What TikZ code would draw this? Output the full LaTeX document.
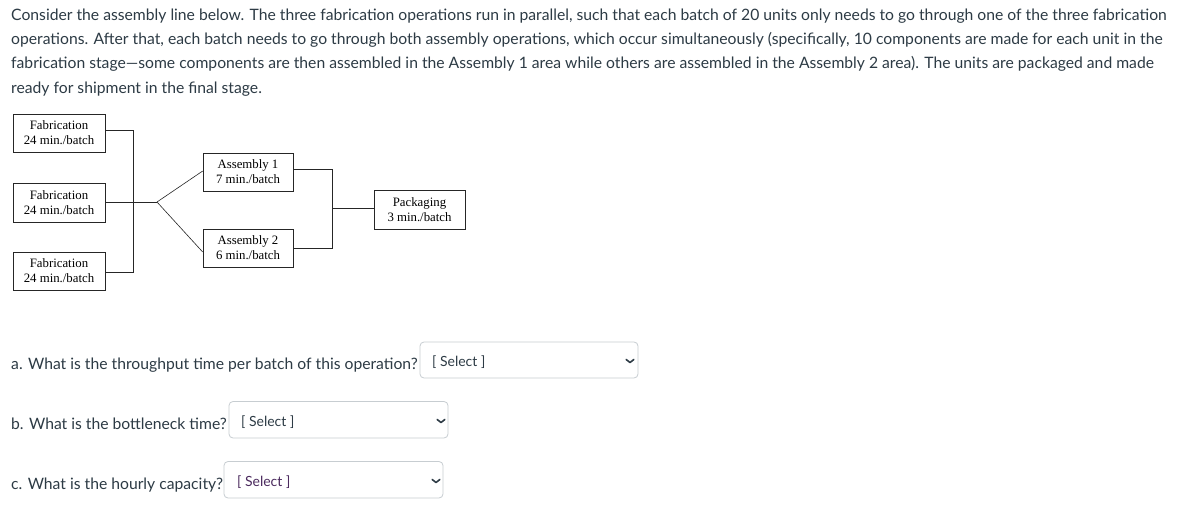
\documentclass[tikz,border=0pt]{standalone}
\usepackage{fontspec}
\usetikzlibrary{calc}
\setmainfont{Lato}
\newfontfamily\diagfont{Liberation Serif}
\definecolor{txt}{HTML}{2D3B45}
\definecolor{selbd}{HTML}{C7CDD1}
\definecolor{seltxt}{HTML}{2D3B45}
\definecolor{selpurple}{HTML}{4B2A5E}
\begin{document}
\begin{tikzpicture}[x=1pt,y=-1pt,
  para/.style={anchor=base west,inner sep=0pt,text=txt,font=\fontsize{15.7}{18}\selectfont},
  opbox/.style={draw=black!85,line width=0.6pt,inner sep=0pt,align=center,font=\diagfont\fontsize{12.8}{15}\selectfont},
  wire/.style={draw=black!85,line width=0.6pt},
  selbox/.style={draw=selbd,line width=0.8pt,rounded corners=4pt,fill=white},
  seltext/.style={anchor=base west,inner sep=0pt,text=seltxt,font=\fontsize{14}{16}\selectfont},
  chev/.style={draw=txt,line width=1.6pt,line cap=round,line join=round}
]
\useasboundingbox (0,0) rectangle (1186,527);
\fill[white] (0,0) rectangle (1186,527);

\node[para] (l1) at (11,21) {Consider the assembly line below. The three fabrication operations run in parallel, such that each batch of 20 units only needs to go through one of the three fabrication};
\node[para] (l2) at (11,45) {operations. After that, each batch needs to go through both assembly operations, which occur simultaneously (specifically, 10 components are made for each unit in the};
\node[para] (l3) at (11,69) {fabrication stage—some components are then assembled in the Assembly 1 area while others are assembled in the Assembly 2 area). The units are packaged and made};
\node[para] (l4) at (11,93) {ready for shipment in the final stage.};

% diagram
\node[opbox,minimum width=92pt,minimum height=38pt] (f1) at (59,133) {Fabrication\\24 min./batch};
\node[opbox,minimum width=92pt,minimum height=39pt] (f2) at (59,202.5) {Fabrication\\24 min./batch};
\node[opbox,minimum width=92pt,minimum height=38pt] (f3) at (59,271) {Fabrication\\24 min./batch};
\node[opbox,minimum width=90pt,minimum height=38pt] (a1) at (248,172) {Assembly 1\\7 min./batch};
\node[opbox,minimum width=90pt,minimum height=38pt] (a2) at (248,248) {Assembly 2\\6 min./batch};
\node[opbox,minimum width=91pt,minimum height=39pt] (pk) at (419.5,209.5) {Packaging\\3 min./batch};

\coordinate (fj1) at (133,130);
\coordinate (fj3) at (133,272);
\coordinate (jn) at (157,202);
\coordinate (aj1) at (332,169);
\coordinate (aj2) at (332,248);
\coordinate (ajm) at (332,208);

\draw[wire] (f1.east |- fj1) -- (fj1) -- (fj3) -- (f3.east |- fj3);
\draw[wire] (f2.east |- jn) -- (jn);
\draw[wire] (jn) -- (a1.west |- 0,171);
\draw[wire] (jn) -- (a2.west |- 0,252);
\draw[wire] (a1.east |- aj1) -- (aj1) -- (aj2) -- (a2.east |- aj2);
\draw[wire] (ajm) -- (pk.west |- ajm);

% questions
\node[para] (qa) at (11,369) {a. What is the throughput time per batch of this operation?};
\draw[selbox] (420,342) rectangle (638,378);
\node[seltext] (sa) at (432,366) {[ Select ]};
\coordinate (ca) at (630,362.5);
\draw[chev] ($(ca)+(-3.8,-3)$) -- (ca) -- ($(ca)+(3.8,-3)$);

\node[para] (qb) at (11,429) {b. What is the bottleneck time?};
\draw[selbox] (229,401.5) rectangle (448,438);
\node[seltext] (sb) at (241,426) {[ Select ]};
\coordinate (cb) at (441,422.5);
\draw[chev] ($(cb)+(-3.8,-3)$) -- (cb) -- ($(cb)+(3.8,-3)$);

\node[para] (qc) at (11,489) {c. What is the hourly capacity?};
\draw[selbox] (224,461.5) rectangle (443,498);
\node[seltext,text=selpurple] (sc) at (237,486) {[ Select ]};
\coordinate (cc) at (436,482.5);
\draw[chev] ($(cc)+(-3.8,-3)$) -- (cc) -- ($(cc)+(3.8,-3)$);
\end{tikzpicture}
\end{document}
